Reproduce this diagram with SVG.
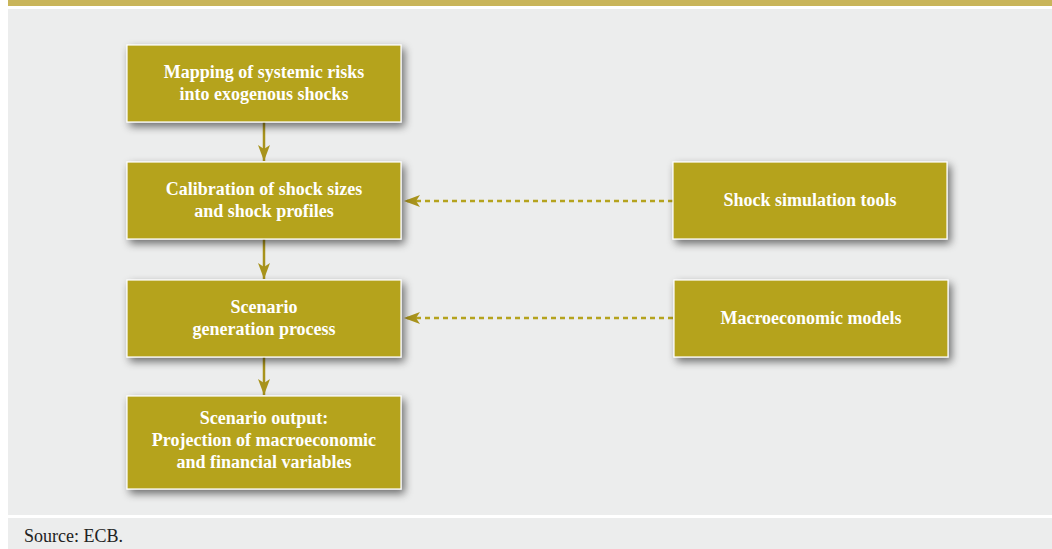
<svg xmlns="http://www.w3.org/2000/svg" width="1052" height="549" viewBox="0 0 1052 549">
<style>
.box{fill:#b5a31e;stroke:#ffffff;stroke-width:1.2;filter:url(#sh)}
.t{font-family:"Liberation Serif",serif;font-weight:bold;font-size:18px;fill:#ffffff;text-anchor:middle}
.solid{stroke:#a8931c;stroke-width:2.5;fill:none}
.dash{stroke:#b5a31e;stroke-width:2.5;fill:none;stroke-dasharray:5 4}
</style>
<defs>
<filter id="sh" x="-10%" y="-20%" width="125%" height="150%">
<feGaussianBlur in="SourceAlpha" stdDeviation="4"/>
<feOffset dx="3" dy="4"/>
<feComponentTransfer><feFuncA type="linear" slope="0.55"/></feComponentTransfer>
<feMerge><feMergeNode/><feMergeNode in="SourceGraphic"/></feMerge>
</filter>
<marker id="ah" viewBox="0 0 16 12" refX="16" refY="6" markerWidth="16" markerHeight="12" markerUnits="userSpaceOnUse" orient="auto">
<path d="M0,0 L16,6 L0,12 L4,6 Z" fill="#a8931c"/>
</marker>
</defs>
<rect x="0" y="0" width="1052" height="549" fill="#ffffff"/>
<rect x="8" y="0" width="1044" height="6" fill="#c9b55a"/>
<rect x="8" y="9" width="1044" height="506" fill="#eceded"/>
<rect x="8" y="518" width="1044" height="31" fill="#eceded"/>
<text x="24" y="542" font-family="Liberation Serif,serif" font-size="18" fill="#222222">Source: ECB.</text>
<g id="connectors">
<line class="solid" x1="264" y1="122" x2="264" y2="161" marker-end="url(#ah)"/>
<line class="solid" x1="264" y1="239" x2="264" y2="279" marker-end="url(#ah)"/>
<line class="solid" x1="264" y1="357" x2="264" y2="395" marker-end="url(#ah)"/>
<line class="dash" x1="673" y1="201" x2="404" y2="201" marker-end="url(#ah)"/>
<line class="dash" x1="673" y1="318" x2="404" y2="318" marker-end="url(#ah)"/>
</g>
<g id="n1"><rect class="box" x="127" y="45" width="274" height="77"/>
<text class="t" x="264" y="78">Mapping of systemic risks</text>
<text class="t" x="264" y="100">into exogenous shocks</text></g>
<g id="n2"><rect class="box" x="127" y="162" width="274" height="77"/>
<text class="t" x="264" y="195">Calibration of shock sizes</text>
<text class="t" x="264" y="217">and shock profiles</text></g>
<g id="n3"><rect class="box" x="127" y="280" width="274" height="77"/>
<text class="t" x="264" y="313">Scenario</text>
<text class="t" x="264" y="335">generation process</text></g>
<g id="n4"><rect class="box" x="127" y="396" width="274" height="93"/>
<text class="t" x="264" y="424">Scenario output:</text>
<text class="t" x="264" y="446">Projection of macroeconomic</text>
<text class="t" x="264" y="468">and financial variables</text></g>
<g id="n5"><rect class="box" x="673" y="162" width="274" height="77"/>
<text class="t" x="810" y="206">Shock simulation tools</text></g>
<g id="n6"><rect class="box" x="674" y="280" width="274" height="77"/>
<text class="t" x="811" y="324">Macroeconomic models</text></g>
</svg>
